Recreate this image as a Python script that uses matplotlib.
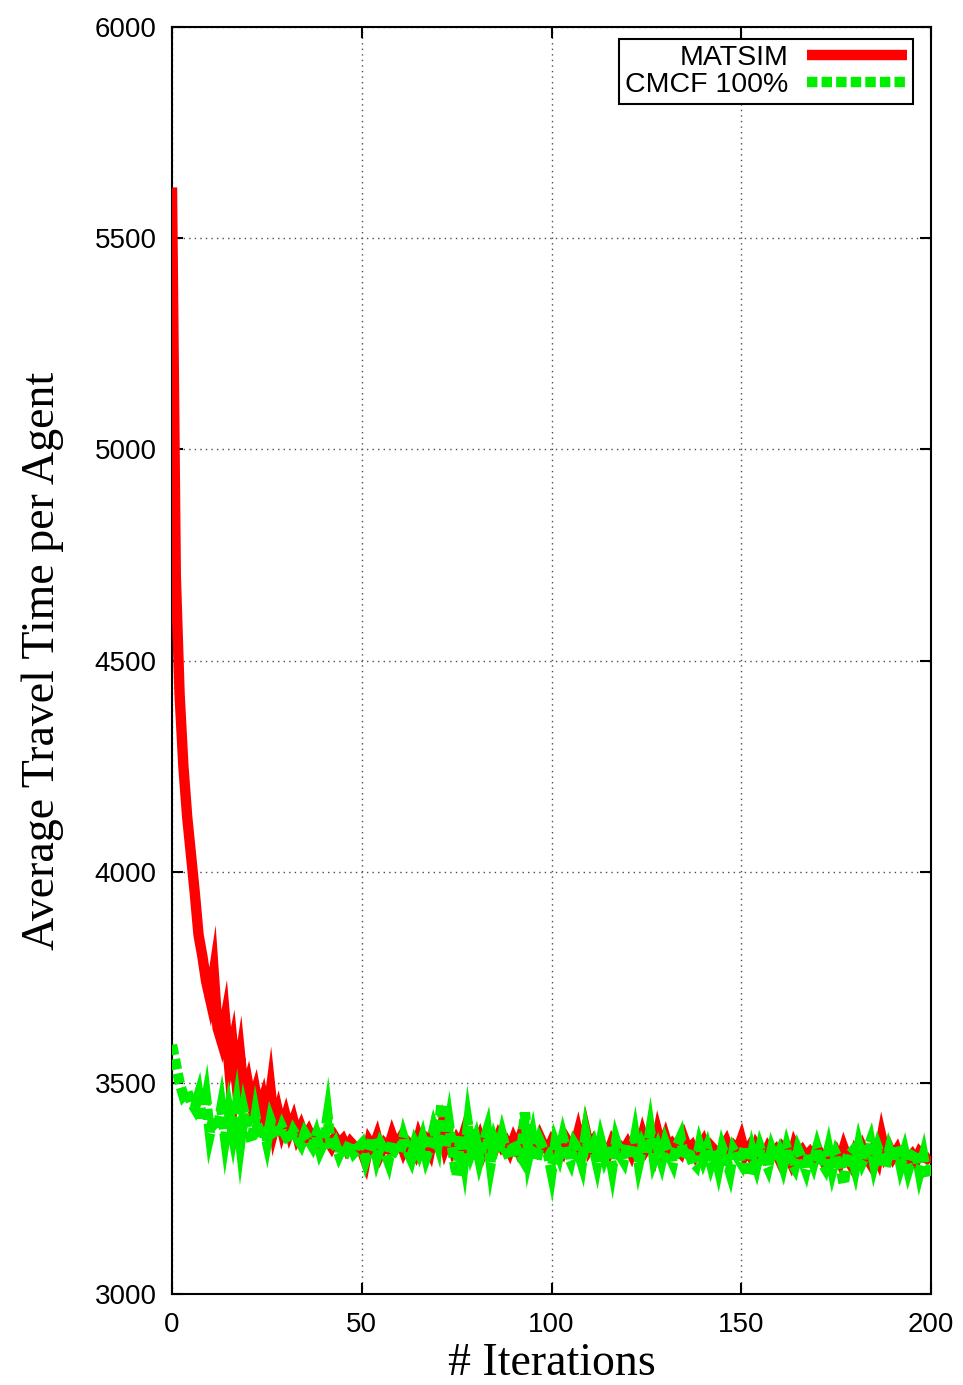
import numpy as np
import matplotlib.pyplot as plt

iterations = np.arange(201)

matsim = [
    5620, 4700, 4420, 4250, 4130, 4040, 3950, 3850, 3800, 3740,
    3700, 3760, 3630, 3600, 3650, 3545, 3590, 3500, 3560, 3470,
    3500, 3450, 3480, 3430, 3460, 3410, 3480, 3395, 3430, 3390,
    3420, 3385, 3410, 3375, 3395, 3370, 3385, 3365, 3380, 3360,
    3375, 3365, 3350, 3370, 3355, 3365, 3345, 3360, 3350, 3345,
    3340, 3315, 3360, 3345, 3370, 3335, 3355, 3345, 3375, 3350,
    3365, 3340, 3360, 3350, 3335, 3370, 3345, 3360, 3340, 3385,
    3360, 3395, 3350, 3375, 3345, 3365, 3350, 3380, 3345, 3360,
    3350, 3370, 3340, 3365, 3355, 3345, 3370, 3350, 3360, 3340,
    3365, 3345, 3375, 3350, 3335, 3360, 3345, 3370, 3350, 3340,
    3360, 3345, 3355, 3340, 3365, 3350, 3345, 3380, 3340, 3385,
    3345, 3360, 3340, 3355, 3345, 3335, 3360, 3345, 3350, 3340,
    3355, 3335, 3365, 3340, 3375, 3345, 3360, 3335, 3380, 3345,
    3370, 3340, 3355, 3345, 3335, 3365, 3340, 3350, 3330, 3345,
    3360, 3335, 3350, 3340, 3325, 3345, 3360, 3335, 3350, 3340,
    3365, 3330, 3345, 3320, 3350, 3335, 3325, 3345, 3330, 3340,
    3320, 3345, 3335, 3315, 3350, 3330, 3340, 3325, 3335, 3320,
    3345, 3325, 3310, 3340, 3320, 3335, 3315, 3345, 3320, 3305,
    3335, 3320, 3345, 3325, 3310, 3340, 3320, 3370, 3330, 3345,
    3325, 3340, 3315, 3335, 3320, 3330, 3315, 3335, 3325, 3320,
    3325,
]

cmcf = [
    3590, 3545, 3500, 3470, 3480, 3455, 3440, 3470, 3410, 3460,
    3380, 3420, 3390, 3440, 3370, 3430, 3380, 3440, 3360, 3430,
    3390, 3360, 3420, 3370, 3400, 3360, 3410, 3385, 3370, 3395,
    3375, 3360, 3385, 3370, 3355, 3380, 3365, 3350, 3375, 3340,
    3360, 3420, 3340, 3355, 3330, 3350, 3340, 3360, 3335, 3345,
    3355, 3320, 3350, 3370, 3325, 3355, 3340, 3315, 3360, 3335,
    3330, 3370, 3340, 3320, 3355, 3335, 3365, 3325, 3350, 3390,
    3360, 3450, 3345, 3400, 3335, 3280, 3375, 3320, 3400, 3340,
    3365, 3320, 3355, 3385, 3310, 3360, 3335, 3375, 3340, 3320,
    3360, 3340, 3325, 3430, 3330, 3370, 3315, 3360, 3340, 3335,
    3290, 3355, 3330, 3370, 3335, 3315, 3355, 3340, 3310, 3375,
    3330, 3350, 3310, 3360, 3325, 3350, 3300, 3360, 3330, 3315,
    3355, 3320, 3370, 3310, 3350, 3330, 3385, 3320, 3345, 3315,
    3355, 3330, 3310, 3350, 3370, 3320, 3345, 3315, 3305, 3350,
    3320, 3345, 3310, 3340, 3300, 3345, 3320, 3290, 3340, 3325,
    3310, 3350, 3280, 3335, 3305, 3345, 3320, 3300, 3340, 3315,
    3335, 3305, 3345, 3315, 3300, 3340, 3320, 3295, 3335, 3310,
    3345, 3315, 3300, 3340, 3295, 3330, 3310, 3260, 3325, 3335,
    3300, 3350, 3315, 3335, 3360, 3310, 3345, 3320, 3300, 3340,
    3315, 3350, 3305, 3335, 3295, 3325, 3340, 3290, 3325, 3275,
    3305,
]

xticks = [0, 50, 100, 150, 200]
yticks = [3000, 3500, 4000, 4500, 5000, 5500, 6000]

fig = plt.figure(figsize=(9.63, 13.85), dpi=100)
ax = fig.add_axes([0.1786, 0.0657, 0.9668 - 0.1786, 0.9805 - 0.0657])

ax.plot(iterations, matsim, color='#ff0000', lw=7.5, solid_joinstyle='miter',
        solid_capstyle='butt', label='MATSIM', zorder=3)
ax.plot(iterations, cmcf, color='#00ee00', lw=7.5, linestyle=(0, (1.0, 0.4)),
        dash_joinstyle='miter', dash_capstyle='butt', label='CMCF 100%', zorder=4)

ax.set_xlim(0, 200)
ax.set_ylim(3000, 6000)
ax.set_xticks(xticks)
ax.set_yticks(yticks)
ax.tick_params(direction='in', length=8, width=1.5, top=True, right=True,
               labelsize=20, pad=11)
ax.tick_params(axis='x', pad=13)
for lab in ax.get_xticklabels() + ax.get_yticklabels():
    lab.set_fontfamily('Liberation Sans')
ax.grid(True, color='0.3', linestyle=(0, (1, 3)), lw=1)
for s in ax.spines.values():
    s.set_linewidth(1.5)

ax.set_xlabel('# Iterations', family='Liberation Serif', fontsize=33, labelpad=3)
ax.set_ylabel('Average Travel Time per Agent', family='Liberation Serif',
              fontsize=33, labelpad=22)

leg = ax.legend(loc='upper right', bbox_to_anchor=(0.976, 0.9905), markerfirst=False,
                handlelength=3.5, handletextpad=0.67, labelspacing=0.05,
                borderpad=0.2, borderaxespad=0, fancybox=False, framealpha=1,
                edgecolor='black', prop={'family': 'Liberation Sans', 'size': 20.5})
leg.get_frame().set_linewidth(1.5)

fig.savefig('out.png', dpi=100)
